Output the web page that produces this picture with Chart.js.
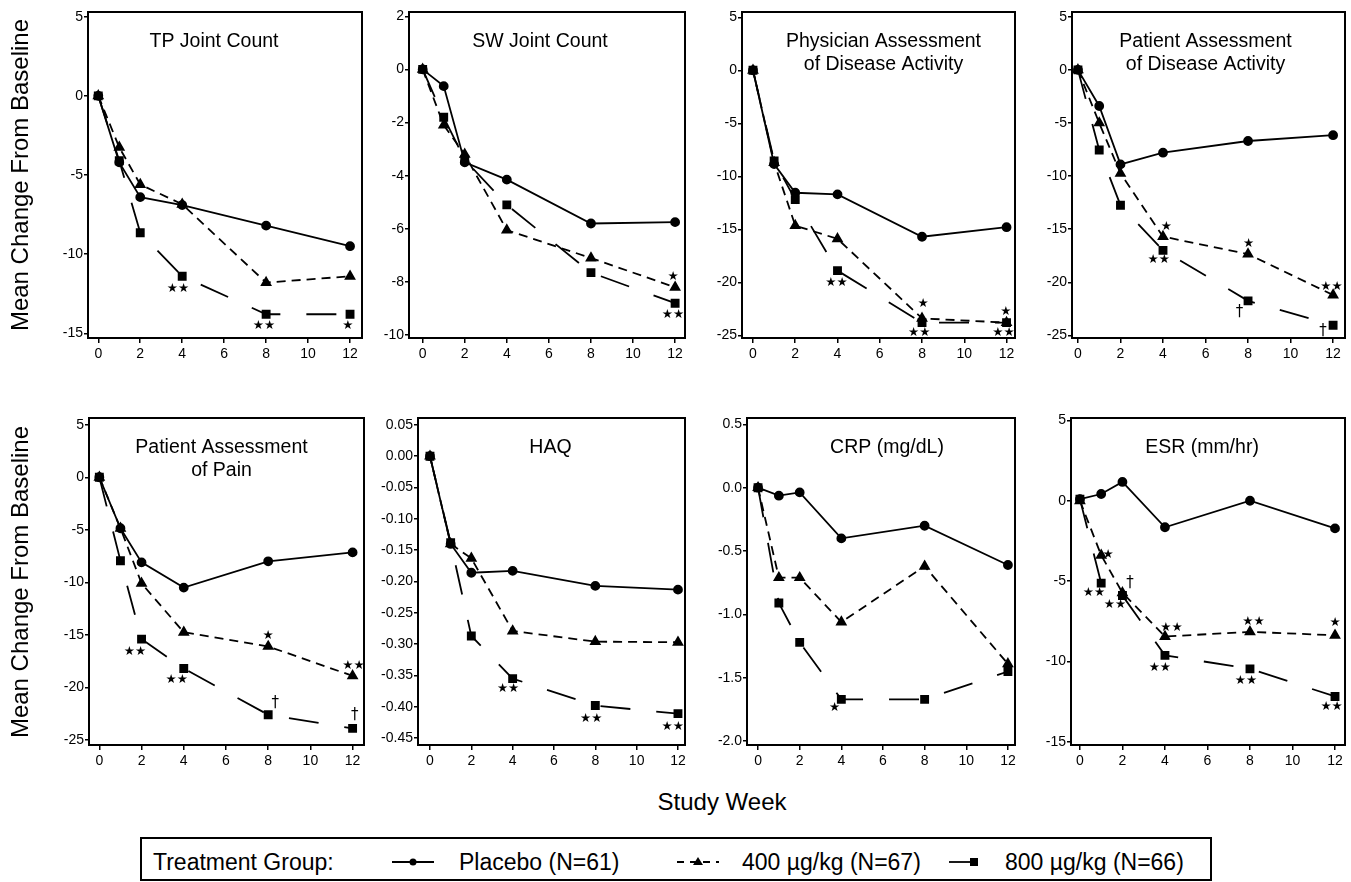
<!DOCTYPE html>
<html><head><meta charset="utf-8">
<script src="https://cdn.jsdelivr.net/npm/chart.js@4.4.1/dist/chart.umd.min.js"></script>
<style>
html,body{margin:0;padding:0;background:#fff;width:1351px;height:882px;overflow:hidden;font-family:"Liberation Sans",Arial,sans-serif;color:#000;}
canvas{position:absolute;}
.abs{position:absolute;white-space:nowrap;}
.ytitle{position:absolute;width:360px;height:30px;line-height:30px;text-align:center;font-size:24px;transform:rotate(-90deg);}
.leg{position:absolute;font-size:23px;line-height:23px;white-space:nowrap;top:851px;}
</style></head><body>
<script>
// ---------- data ----------
const weeks = [0, 1, 2, 4, 8, 12];
const xTicks = [0, 2, 4, 6, 8, 10, 12];
const seriesNames = ['Placebo (N=61)', '400 µg/kg (N=67)', '800 µg/kg (N=66)'];

// TP Joint Count
const tpPlacebo = [0, -4.2, -6.4, -6.9, -8.2, -9.5];
const tp400 = [0, -3.25, -5.6, -6.85, -11.8, -11.4];
const tp800 = [0, -4.1, -8.65, -11.4, -13.8, -13.8];
const tpMarks = [[3.8, -12.2, '★★'], [7.9, -14.5, '★★'], [11.9, -14.5, '★']];
const tpTicks = [-15, -10, -5, 0, 5];
const tpTickLabels = ['-15', '-10', '-5', '0', '5'];

// SW Joint Count
const swPlacebo = [0, -0.63, -3.5, -4.15, -5.8, -5.75];
const sw400 = [0, -2.1, -3.2, -6.05, -7.1, -8.2];
const sw800 = [0, -1.8, -3.4, -5.1, -7.65, -8.8];
const swMarks = [[11.9, -7.8, '★'], [11.9, -9.25, '★★']];
const swTicks = [-10, -8, -6, -4, -2, 0, 2];
const swTickLabels = ['-10', '-8', '-6', '-4', '-2', '0', '2'];

// Physician Assessment of Disease Activity
const phPlacebo = [0, -8.85, -11.55, -11.7, -15.7, -14.8];
const ph400 = [0, -8.7, -14.65, -15.9, -23.4, -23.8];
const ph800 = [0, -8.55, -12.2, -18.9, -23.8, -23.8];
const phMarks = [[3.95, -20.0, '★★'], [8.05, -22.0, '★'], [7.87, -24.8, '★★'], [11.97, -22.8, '★'], [11.85, -24.8, '★★']];

// Patient Assessment of Disease Activity
const paPlacebo = [0, -3.4, -8.9, -7.8, -6.7, -6.15];
const pa400 = [0, -5.0, -9.75, -15.7, -17.35, -21.2];
const pa800 = [0, -7.55, -12.75, -17.0, -21.75, -24.05];
const paMarks = [[4.16, -14.8, '★'], [3.8, -17.9, '★★'], [8.03, -16.35, '★'], [11.92, -20.4, '★★'], [7.6, -22.8, '†'], [11.53, -24.6, '†']];
const pct25Ticks = [-25, -20, -15, -10, -5, 0, 5];
const pct25TickLabels = ['-25', '-20', '-15', '-10', '-5', '0', '5'];

// Patient Assessment of Pain
const ppPlacebo = [0, -4.85, -8.1, -10.5, -8.0, -7.15];
const pp400 = [0, -4.85, -10.1, -14.75, -16.1, -18.9];
const pp800 = [0, -7.95, -15.4, -18.2, -22.6, -23.9];
const ppMarks = [[1.69, -16.6, '★★'], [3.67, -19.3, '★★'], [8.0, -15.1, '★'], [12.04, -17.95, '★★'], [8.33, -21.5, '†'], [12.1, -22.6, '†']];

// HAQ
const haqPlacebo = [0, -0.14, -0.186, -0.183, -0.207, -0.213];
const haq400 = [0, -0.14, -0.163, -0.279, -0.296, -0.297];
const haq800 = [0, -0.138, -0.287, -0.355, -0.398, -0.411];
const haqMarks = [[3.78, -0.371, '★★'], [7.8, -0.419, '★★'], [11.75, -0.432, '★★']];
const haqTicks = [-0.45, -0.40, -0.35, -0.30, -0.25, -0.20, -0.15, -0.10, -0.05, 0, 0.05];
const haqTickLabels = ['-0.45', '-0.40', '-0.35', '-0.30', '-0.25', '-0.20', '-0.15', '-0.10', '-0.05', '0.00', '0.05'];

// CRP (mg/dL)
const crpPlacebo = [0, -0.063, -0.037, -0.40, -0.30, -0.61];
const crp400 = [0, -0.71, -0.71, -1.06, -0.62, -1.39];
const crp800 = [0, -0.91, -1.22, -1.67, -1.67, -1.45];
const crpMarks = [[3.68, -1.74, '★']];
const crpTicks = [-2.0, -1.5, -1.0, -0.5, 0, 0.5];
const crpTickLabels = ['-2.0', '-1.5', '-1.0', '-0.5', '0.0', '0.5'];

// ESR (mm/hr)
const esrPlacebo = [0.1, 0.42, 1.17, -1.65, 0, -1.72];
const esr400 = [0, -3.39, -5.73, -8.45, -8.16, -8.37];
const esr800 = [0.1, -5.13, -5.9, -9.62, -10.46, -12.18];
const esrMarks = [[1.33, -3.35, '★'], [0.66, -5.73, '★★'], [1.65, -6.49, '★★'], [2.35, -5.1, '†'], [4.31, -7.89, '★★'], [8.16, -7.53, '★★'], [12.0, -7.57, '★'], [3.76, -10.4, '★★'], [7.81, -11.23, '★★'], [11.84, -12.85, '★★']];
const esrTicks = [-15, -10, -5, 0, 5];
const esrTickLabels = ['-15', '-10', '-5', '0', '5'];

// ---------- panels (layout) ----------
const panels = [
  {title: ['TP Joint Count'], s: [tpPlacebo, tp400, tp800], marks: tpMarks, yt: tpTicks, yl: tpTickLabels,
   box: [88, 12, 362, 338], x: [-0.49, 12.57], y: [-15.3, 5.3], tdx: -11},
  {title: ['SW Joint Count'], s: [swPlacebo, sw400, sw800], marks: swMarks, yt: swTicks, yl: swTickLabels,
   box: [409, 12, 685, 338], x: [-0.65, 12.47], y: [-10.11, 2.16], tdx: -7},
  {title: ['Physician Assessment', 'of Disease Activity'], s: [phPlacebo, ph400, ph800], marks: phMarks, yt: pct25Ticks, yl: pct25TickLabels,
   box: [742, 12, 1015, 338], x: [-0.52, 12.4], y: [-25.25, 5.5], tdx: 5},
  {title: ['Patient Assessment', 'of Disease Activity'], s: [paPlacebo, pa400, pa800], marks: paMarks, yt: pct25Ticks, yl: pct25TickLabels,
   box: [1072, 12, 1345, 338], x: [-0.28, 12.56], y: [-25.25, 5.45], tdx: -3},
  {title: ['Patient Assessment', 'of Pain'], s: [ppPlacebo, pp400, pp800], marks: ppMarks, yt: pct25Ticks, yl: pct25TickLabels,
   box: [89, 418, 364, 745], x: [-0.49, 12.54], y: [-25.48, 5.64], tdx: -5},
  {title: ['HAQ'], s: [haqPlacebo, haq400, haq800], marks: haqMarks, yt: haqTicks, yl: haqTickLabels,
   box: [418, 418, 685, 745], x: [-0.58, 12.34], y: [-0.461, 0.061], tdx: -1},
  {title: ['CRP (mg/dL)'], s: [crpPlacebo, crp400, crp800], marks: crpMarks, yt: crpTicks, yl: crpTickLabels,
   box: [747, 418, 1015, 745], x: [-0.53, 12.34], y: [-2.03, 0.55], tdx: 6},
  {title: ['ESR (mm/hr)'], s: [esrPlacebo, esr400, esr800], marks: esrMarks, yt: esrTicks, yl: esrTickLabels,
   box: [1071, 418, 1345, 745], x: [-0.42, 12.47], y: [-15.2, 5.15], tdx: -6}
];

const FONT = '"Liberation Sans", Arial, sans-serif';
const PADL = 60, PADT = 10, PADR = 8, PADB = 30;

const decoPlugin = {
  id: 'deco',
  afterDatasetsDraw(chart, args, opts) {
    const {ctx, chartArea: a, scales} = chart;
    ctx.save();
    ctx.strokeStyle = '#000';
    ctx.lineWidth = 2;
    ctx.strokeRect(a.left, a.top, a.right - a.left, a.bottom - a.top);
    ctx.fillStyle = '#000';
    ctx.textAlign = 'center';
    ctx.textBaseline = 'middle';
    ctx.font = '19.5px ' + FONT;
    const cx = (a.left + a.right) / 2 + (opts.tdx || 0);
    opts.title.forEach((line, i) => ctx.fillText(line, cx, a.top + 30 + i * 23));
    opts.marks.forEach(m => {
      ctx.font = m[2] === '†' ? '15px "DejaVu Sans"' : '12.5px "DejaVu Sans"';
      ctx.fillText(m[2], scales.x.getPixelForValue(m[0]), scales.y.getPixelForValue(m[1]));
    });
    ctx.restore();
  }
};

const styles = [
  {pointStyle: 'circle', pointRadius: 4, borderDash: []},
  {pointStyle: 'triangle', pointRadius: 5, borderDash: [9, 6]},
  {pointStyle: 'rect', pointRadius: 5, borderDash: [30, 26]}
];

panels.forEach(p => {
  const [l, t, r, b] = p.box;
  const cv = document.createElement('canvas');
  const w = (r - l) + PADL + PADR, h = (b - t) + PADT + PADB;
  cv.width = w; cv.height = h;
  cv.style.left = (l - PADL) + 'px';
  cv.style.top = (t - PADT) + 'px';
  cv.style.width = w + 'px'; cv.style.height = h + 'px';
  document.body.appendChild(cv);
  new Chart(cv, {
    type: 'line',
    data: {
      datasets: p.s.map((vals, i) => ({
        label: seriesNames[i],
        data: weeks.map((wk, j) => ({x: wk, y: vals[j]})),
        borderColor: '#000',
        backgroundColor: '#000',
        pointBackgroundColor: '#000',
        pointBorderColor: '#000',
        borderWidth: 1.8,
        tension: 0,
        fill: false,
        pointStyle: styles[i].pointStyle,
        pointRadius: styles[i].pointRadius,
        borderDash: styles[i].borderDash
      }))
    },
    options: {
      responsive: false,
      animation: false,
      events: [],
      layout: {padding: {top: PADT, right: PADR, left: 0, bottom: 0}},
      plugins: {legend: {display: false}, tooltip: {enabled: false},
        deco: {title: p.title, marks: p.marks, tdx: p.tdx}},
      scales: {
        x: {
          type: 'linear', min: p.x[0], max: p.x[1],
          afterBuildTicks: s => { s.ticks = xTicks.map(v => ({value: v})); },
          afterFit: s => { s.height = PADB; },
          ticks: {color: '#000', font: {family: FONT, size: 14}, padding: 3, maxRotation: 0, autoSkip: false,
            callback: v => String(v)},
          grid: {display: true, drawOnChartArea: false, drawTicks: true, tickLength: 5, color: '#000', lineWidth: 1.5},
          border: {display: false}
        },
        y: {
          type: 'linear', min: p.y[0], max: p.y[1],
          afterBuildTicks: s => { s.ticks = p.yt.map(v => ({value: v})); },
          afterFit: s => { s.width = PADL; },
          ticks: {color: '#000', font: {family: FONT, size: 14}, padding: 1, autoSkip: false,
            callback: (v, i) => p.yl[i]},
          grid: {display: true, drawOnChartArea: false, drawTicks: true, tickLength: 4, color: '#000', lineWidth: 1.5},
          border: {display: false}
        }
      }
    },
    plugins: [decoPlugin]
  });
});
</script>

<div class="ytitle" style="left:-160px;top:160px;">Mean Change From Baseline</div>
<div class="ytitle" style="left:-160px;top:567px;">Mean Change From Baseline</div>
<div class="abs" style="left:722px;top:790px;font-size:24px;line-height:24px;transform:translateX(-50%);">Study Week</div>

<div style="position:absolute;left:140px;top:837px;width:1072px;height:44px;border:2px solid #000;box-sizing:border-box;"></div>
<div class="leg" style="left:153px;">Treatment Group:</div>
<svg class="abs" style="left:390px;top:852px;" width="46" height="20">
  <line x1="2" y1="10" x2="44" y2="10" stroke="#000" stroke-width="1.8"/>
  <circle cx="23" cy="10" r="3.5" fill="#000"/>
</svg>
<div class="leg" style="left:459px;">Placebo (N=61)</div>
<svg class="abs" style="left:674px;top:852px;" width="48" height="20">
  <line x1="3" y1="10" x2="45" y2="10" stroke="#000" stroke-width="1.8" stroke-dasharray="7,6"/>
  <polygon points="24,5 29,13 19,13" fill="#000"/>
</svg>
<div class="leg" style="left:742px;">400 µg/kg (N=67)</div>
<svg class="abs" style="left:946px;top:852px;" width="44" height="20">
  <line x1="3" y1="10" x2="26" y2="10" stroke="#000" stroke-width="1.8"/>
  <rect x="24" y="6" width="8" height="8" fill="#000"/>
</svg>
<div class="leg" style="left:1005px;">800 µg/kg (N=66)</div>
</body></html>
